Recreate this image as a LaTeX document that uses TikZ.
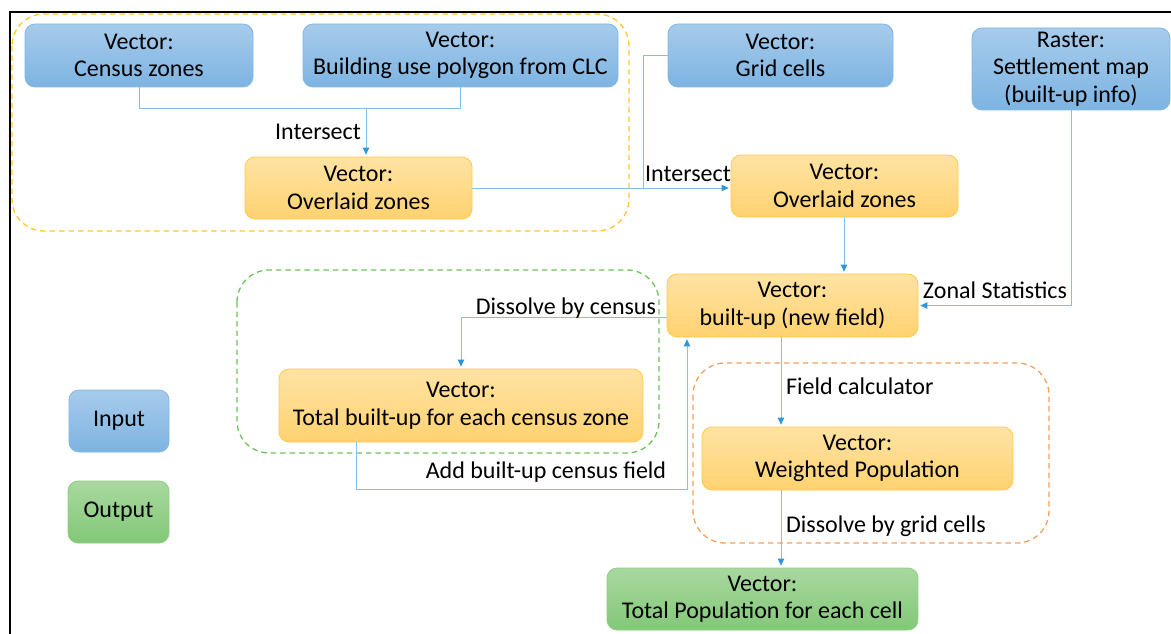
\documentclass[tikz,border=0pt]{standalone}
\usepackage{fontspec}
\setmainfont{Carlito}
\usetikzlibrary{arrows.meta}

\definecolor{intop}{HTML}{A7CBEB}
\definecolor{inbot}{HTML}{7DB4E2}
\definecolor{inedge}{HTML}{80B7E4}
\definecolor{prtop}{HTML}{FFE3A3}
\definecolor{prbot}{HTML}{FFD270}
\definecolor{predge}{HTML}{FFC94A}
\definecolor{outtop}{HTML}{A9D8A0}
\definecolor{outbot}{HTML}{82C877}
\definecolor{outedge}{HTML}{8ECF84}
\definecolor{link}{HTML}{85BEE8}
\definecolor{tipblue}{HTML}{2E96DA}
\definecolor{dashyellow}{HTML}{FFC72C}
\definecolor{dashgreen}{HTML}{6CC35A}
\definecolor{dashorange}{HTML}{F7A05A}

\tikzset{
  box/.style={rounded corners=10pt, line width=0.8pt, align=center,
    inner sep=0pt, font=\fontsize{24}{27.5}\selectfont},
  inbox/.style={box, draw=inedge, top color=intop, bottom color=inbot},
  procbox/.style={box, draw=predge, top color=prtop, bottom color=prbot},
  outbox/.style={box, draw=outedge, top color=outtop, bottom color=outbot},
  conn/.style={draw=link, line width=1pt},
  arr/.style={conn, shorten >=2pt, -{Triangle[length=7pt,width=6.5pt,color=tipblue]}},
  lbl/.style={inner sep=0pt, font=\fontsize{24}{27}\selectfont},
  group/.style={dashed, dash pattern=on 5.5pt off 4pt, line width=1.3pt, rounded corners=32pt},
}

\begin{document}
\begin{tikzpicture}[x=1pt,y=-1pt]
\useasboundingbox (0,0) rectangle (1171,634);
\clip (0,0) rectangle (1171,634);
\fill[white] (0,0) rectangle (1171,634);

% outer frame
\draw[line width=2pt] (10,700) -- (10,12) -- (1200,12);

% dashed groupings
\draw[group, draw=dashyellow] (12,14) rectangle (629,231);
\draw[group, draw=dashgreen] (237,270) rectangle (659,453);
\draw[group, draw=dashorange] (693,363) rectangle (1049,543);

% inputs
\node[inbox, minimum width=228pt, minimum height=63pt] (census) at (139,55.5) {Vector:\\Census zones};
\node[inbox, minimum width=315pt, minimum height=63pt] (building) at (460.5,55.5) {Vector:\\Building use polygon from CLC};
\node[inbox, minimum width=225pt, minimum height=63pt] (grid) at (780.5,55.5) {Vector:\\Grid cells};
\node[inbox, minimum width=198pt, minimum height=82pt] (raster) at (1071,69) {Raster:\\Settlement map\\(built-up info)};

% processing steps
\node[procbox, minimum width=227pt, minimum height=62pt] (ov1) at (358.5,188) {Vector:\\Overlaid zones};
\node[procbox, minimum width=227pt, minimum height=62pt] (ov2) at (844.5,186) {Vector:\\Overlaid zones};
\node[procbox, minimum width=251pt, minimum height=63pt] (builtup) at (792.5,305.5) {Vector:\\built-up (new field)};
\node[procbox, minimum width=364pt, minimum height=73pt] (totbu) at (461,405.5) {Vector:\\Total built-up for each census zone};
\node[procbox, minimum width=311pt, minimum height=63pt] (weighted) at (857.5,458.5) {Vector:\\Weighted Population};

% result
\node[outbox, minimum width=311pt, minimum height=62pt] (totpop) at (762.5,599) {Vector:\\Total Population for each cell};

% legend
\node[inbox, minimum width=100pt, minimum height=62pt] (leg-in) at (119,421) {Input};
\node[outbox, minimum width=101pt, minimum height=62pt] (leg-out) at (118.5,512) {Output};

% connectors
\coordinate (j1) at (366,109);
\draw[conn] (census.south) -- (census.south |- j1) -- (building.south |- j1) -- (building.south);
\draw[arr] (j1) -- (j1 |- ov1.north);

\coordinate (j2) at (643,188);
\draw[conn] (grid.west) -| (j2);
\draw[arr] (ov1.east) -- (ov1.east -| ov2.west);

\draw[arr] (844,217) coordinate (j4) -- (j4 |- builtup.north);
\draw[arr] (raster.south) |- (builtup.east);

\draw[arr] ([yshift=-11.5pt]builtup.west) -| (totbu.north);

\coordinate (j3) at (687,489);
\draw[arr] ([xshift=-105pt]totbu.south) |- (j3) -- (j3 |- builtup.south);

\draw[arr] ([xshift=-11.5pt]builtup.south) -- ([xshift=-11.5pt]builtup.south |- weighted.north);
\draw[arr] ([xshift=-76.5pt]weighted.south) -- ([xshift=-76.5pt]weighted.south |- totpop.north);

% connector labels
\node[lbl] (l-int1) at (318,132) {Intersect};
\node[lbl] (l-int2) at (688,174) {Intersect};
\node[lbl] (l-zonal) at (995,290) {Zonal Statistics};
\node[lbl] (l-diss) at (566,308) {Dissolve by census};
\node[lbl] (l-add) at (546,472) {Add built-up census field};
\node[lbl, anchor=west] (l-calc) at (786,386) {Field calculator};
\node[lbl, anchor=west] (l-grid) at (786,526) {Dissolve by grid cells};
\end{tikzpicture}
\end{document}
